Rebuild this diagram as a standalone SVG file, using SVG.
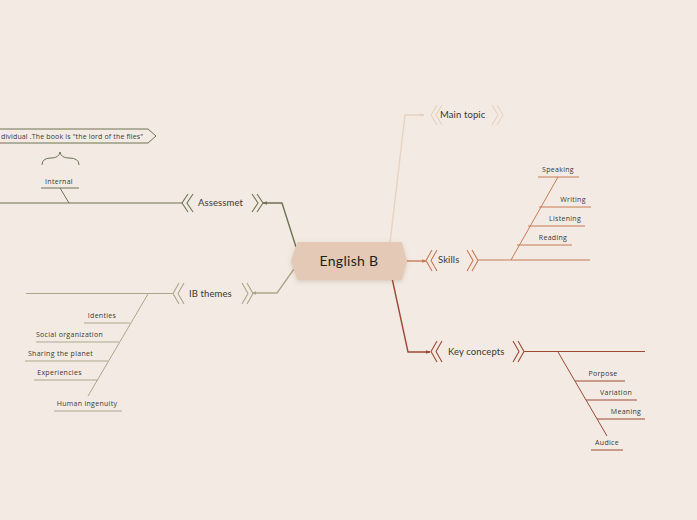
<svg xmlns="http://www.w3.org/2000/svg" width="697" height="520" viewBox="0 0 697 520">
<defs>
<style>
text{font-family:Lato,"Noto Sans","Liberation Sans",sans-serif;fill:#3a3633}
.sm{font-family:"Open Sans","Noto Sans","Liberation Sans",sans-serif;font-size:7px;letter-spacing:0.3px;text-anchor:middle}
.tp{font-size:9.5px;letter-spacing:0.1px}
.ln{fill:none;stroke-width:1}
.cn{fill:none;stroke-width:1.4}
.ch{fill:none;stroke-width:1.1}
.as{stroke:#6b7353}
.ib{stroke:#aca78b}
.mt{stroke:#e8d2c0}
.sk{stroke:#c87a56}
.kc{stroke:#9c4a35}
</style>
<marker id="ma" viewBox="0 0 8 8" refX="7" refY="4" markerWidth="5" markerHeight="5" orient="auto" markerUnits="userSpaceOnUse"><path d="M0,0.8 L8,4 L0,7.2 z" fill="#6b7353"/></marker>
<marker id="mi" viewBox="0 0 8 8" refX="7" refY="4" markerWidth="5" markerHeight="5" orient="auto" markerUnits="userSpaceOnUse"><path d="M0,0.8 L8,4 L0,7.2 z" fill="#aca78b"/></marker>
<marker id="mm" viewBox="0 0 8 8" refX="7" refY="4" markerWidth="5" markerHeight="5" orient="auto" markerUnits="userSpaceOnUse"><path d="M0,0.8 L8,4 L0,7.2 z" fill="#e8d2c0"/></marker>
<marker id="ms" viewBox="0 0 8 8" refX="7" refY="4" markerWidth="5" markerHeight="5" orient="auto" markerUnits="userSpaceOnUse"><path d="M0,0.8 L8,4 L0,7.2 z" fill="#c87a56"/></marker>
<marker id="mk" viewBox="0 0 8 8" refX="7" refY="4" markerWidth="5" markerHeight="5" orient="auto" markerUnits="userSpaceOnUse"><path d="M0,0.8 L8,4 L0,7.2 z" fill="#9c4a35"/></marker>
<filter id="sh" x="-20%" y="-30%" width="140%" height="160%"><feDropShadow dx="0" dy="1.5" stdDeviation="2" flood-color="#7a5a40" flood-opacity="0.25"/></filter>
</defs>
<rect width="697" height="520" fill="#f3ebe3"/>

<g id="connectors">
<polyline class="cn as" points="296,247 282,203 263,203" marker-end="url(#ma)"/>
<polyline class="cn ib" points="294,269 277,293 252,293" marker-end="url(#mi)"/>
<polyline class="cn mt" points="390,243 405,115 424,115" marker-end="url(#mm)"/>
<polyline class="cn sk" points="406,261 426,261" marker-end="url(#ms)"/>
<polyline class="cn kc" points="392,278 408,352 430,352" marker-end="url(#mk)"/>
</g>

<g id="center">
<path d="M298,243 L401,243 L406,261 L401,279 L298,279 L292,261 Z" fill="#e4cab6" stroke="#e4cab6" stroke-width="2" stroke-linejoin="round" filter="url(#sh)"/>
<text x="349" y="266" font-size="14" text-anchor="middle" style="fill:#1e1e1e;letter-spacing:0.3px">English B</text>
</g>

<g id="main-topic">
<path class="ch mt" d="M437,105 L431,115 L437,125 M442,105 L436,115 L442,125 M492,105 L498,115 L492,125 M497,105 L503,115 L497,125"/>
<text class="tp" x="440" y="118">Main topic</text>
</g>

<g id="skills">
<path class="ch sk" d="M432,250 L426,260.5 L432,271 M437,250 L431,260.5 L437,271 M467,250 L473,260.5 L467,271 M472,250 L478,260.5 L472,271"/>
<text class="tp" x="438" y="263">Skills</text>
<g class="ln sk">
<line x1="478" y1="260" x2="590" y2="260"/>
<line x1="511" y1="260" x2="558" y2="177"/>
<line x1="538" y1="177" x2="579" y2="177"/>
<line x1="539" y1="207" x2="591" y2="207"/>
<line x1="528" y1="226" x2="585" y2="226"/>
<line x1="517" y1="245" x2="572" y2="245"/>
</g>
<text class="sm" x="558" y="172">Speaking</text>
<text class="sm" x="573" y="202">Writing</text>
<text class="sm" x="565" y="221">Listening</text>
<text class="sm" x="553" y="240">Reading</text>
</g>

<g id="key-concepts">
<path class="ch kc" d="M437,341 L431,351.5 L437,362 M442,341 L436,351.5 L442,362 M513,341 L519,351.5 L513,362 M518,341 L524,351.5 L518,362"/>
<text class="tp" x="448" y="355">Key concepts</text>
<g class="ln kc">
<line x1="524" y1="351.5" x2="645" y2="351.5"/>
<line x1="558" y1="352" x2="607" y2="436"/>
<line x1="575" y1="381" x2="625" y2="381"/>
<line x1="586" y1="400" x2="637" y2="400"/>
<line x1="597" y1="419" x2="645" y2="419"/>
<line x1="591" y1="450" x2="623" y2="450"/>
</g>
<text class="sm" x="603" y="376">Porpose</text>
<text class="sm" x="616" y="395">Variation</text>
<text class="sm" x="626" y="414">Meaning</text>
<text class="sm" x="607" y="445">Audice</text>
</g>

<g id="assessmet">
<path class="ch as" d="M188,194 L182,203 L188,212 M193,194 L187,203 L193,212 M252,194 L258,203 L252,212 M257,194 L263,203 L257,212"/>
<text class="tp" x="198" y="206">Assessmet</text>
<g class="ln as">
<line x1="0" y1="203" x2="182" y2="203"/>
<line x1="60" y1="188" x2="69" y2="203"/>
<line x1="41" y1="188" x2="79" y2="188"/>
<path d="M42,165 Q42,158 51,158 Q59,158 60,152 Q61,158 69,158 Q79,158 79,165"/>
<path d="M0,129 L148,129 L156,136 L148,143 L0,143"/>
</g>
<text class="sm" x="59" y="184">Internal</text>
<text class="sm" x="1" y="139" textLength="142" lengthAdjust="spacing" style="text-anchor:start;letter-spacing:0">dividual .The book is "the lord of the flies"</text>
</g>

<g id="ib-themes">
<path class="ch ib" d="M179,283 L173,293.5 L179,304 M184,283 L178,293.5 L184,304 M242,283 L248,293.5 L242,304 M247,283 L253,293.5 L247,304"/>
<text class="tp" x="189" y="297">IB themes</text>
<g class="ln ib">
<line x1="26" y1="293.5" x2="173" y2="293.5"/>
<line x1="148" y1="294" x2="88" y2="396"/>
<line x1="84" y1="323" x2="130" y2="323"/>
<line x1="36" y1="342" x2="119" y2="342"/>
<line x1="25" y1="361" x2="108" y2="361"/>
<line x1="34" y1="380" x2="98" y2="380"/>
<line x1="54" y1="411" x2="122" y2="411"/>
</g>
<text class="sm" x="102" y="318">Identies</text>
<text class="sm" x="69.5" y="337">Social organization</text>
<text class="sm" x="60.5" y="356">Sharing the planet</text>
<text class="sm" x="59.5" y="375">Experiencies</text>
<text class="sm" x="87" y="406">Human ingenuity</text>
</g>
</svg>
